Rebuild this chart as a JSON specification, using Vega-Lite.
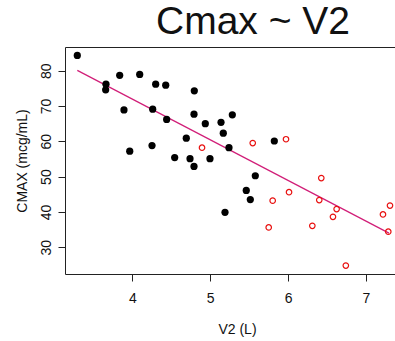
{
  "$schema": "https://vega.github.io/schema/vega-lite/v6.json",
  "autosize": "none",
  "width": 332,
  "height": 227,
  "padding": {"left": 65, "top": 47, "right": 0, "bottom": 67},
  "background": "white",
  "config": {
    "font": "Liberation Sans",
    "view": {"stroke": "#222", "strokeWidth": 1},
    "axis": {
      "grid": false,
      "domain": false,
      "tickColor": "#222",
      "tickSize": 7,
      "labelFont": "Liberation Sans",
      "labelFontSize": 14,
      "labelColor": "#111",
      "titleFont": "Liberation Sans",
      "titleFontSize": 14,
      "titleFontWeight": "normal",
      "titleColor": "#111"
    }
  },
  "title": {
    "text": "Cmax ~ V2",
    "font": "Liberation Sans",
    "fontSize": 39,
    "fontWeight": "normal",
    "color": "#111",
    "anchor": "middle",
    "frame": "group",
    "dx": 22,
    "dy": 36,
    "baseline": "bottom",
    "offset": 2
  },
  "datasets": {
    "pts": [
      {"v2": 3.294, "cmax": 84.35, "group": "A"},
      {"v2": 3.662, "cmax": 76.2, "group": "A"},
      {"v2": 3.658, "cmax": 74.6, "group": "A"},
      {"v2": 3.838, "cmax": 78.7, "group": "A"},
      {"v2": 4.095, "cmax": 78.95, "group": "A"},
      {"v2": 4.30, "cmax": 76.2, "group": "A"},
      {"v2": 4.429, "cmax": 75.9, "group": "A"},
      {"v2": 4.796, "cmax": 74.3, "group": "A"},
      {"v2": 3.893, "cmax": 68.9, "group": "A"},
      {"v2": 4.262, "cmax": 69.1, "group": "A"},
      {"v2": 4.441, "cmax": 66.2, "group": "A"},
      {"v2": 4.792, "cmax": 67.7, "group": "A"},
      {"v2": 4.937, "cmax": 65.0, "group": "A"},
      {"v2": 5.139, "cmax": 65.4, "group": "A"},
      {"v2": 5.168, "cmax": 62.3, "group": "A"},
      {"v2": 4.693, "cmax": 60.9, "group": "A"},
      {"v2": 3.967, "cmax": 57.2, "group": "A"},
      {"v2": 4.253, "cmax": 58.8, "group": "A"},
      {"v2": 4.544, "cmax": 55.4, "group": "A"},
      {"v2": 4.741, "cmax": 55.1, "group": "A"},
      {"v2": 4.792, "cmax": 52.9, "group": "A"},
      {"v2": 4.997, "cmax": 55.1, "group": "A"},
      {"v2": 5.241, "cmax": 58.2, "group": "A"},
      {"v2": 5.284, "cmax": 67.5, "group": "A"},
      {"v2": 5.823, "cmax": 60.1, "group": "A"},
      {"v2": 5.579, "cmax": 50.25, "group": "A"},
      {"v2": 5.463, "cmax": 46.1, "group": "A"},
      {"v2": 5.515, "cmax": 43.5, "group": "A"},
      {"v2": 5.19, "cmax": 39.9, "group": "A"},
      {"v2": 4.895, "cmax": 58.2, "group": "B"},
      {"v2": 5.546, "cmax": 59.5, "group": "B"},
      {"v2": 5.973, "cmax": 60.6, "group": "B"},
      {"v2": 6.426, "cmax": 49.6, "group": "B"},
      {"v2": 6.012, "cmax": 45.6, "group": "B"},
      {"v2": 5.802, "cmax": 43.2, "group": "B"},
      {"v2": 6.40, "cmax": 43.35, "group": "B"},
      {"v2": 6.623, "cmax": 40.8, "group": "B"},
      {"v2": 6.576, "cmax": 38.6, "group": "B"},
      {"v2": 5.751, "cmax": 35.6, "group": "B"},
      {"v2": 6.311, "cmax": 36.05, "group": "B"},
      {"v2": 6.741, "cmax": 24.8, "group": "B"},
      {"v2": 7.218, "cmax": 39.3, "group": "B"},
      {"v2": 7.308, "cmax": 41.8, "group": "B"},
      {"v2": 7.286, "cmax": 34.4, "group": "B"}
    ],
    "fit": [
      {"v2": 3.294, "cmax": 80.1},
      {"v2": 7.295, "cmax": 34.0}
    ]
  },
  "encoding": {
    "x": {
      "field": "v2", "type": "quantitative",
      "scale": {"domain": [3.136, 7.398], "nice": false, "zero": false},
      "axis": {"values": [4, 5, 6, 7], "title": "V2 (L)", "labelPadding": 10, "titlePadding": 17, "titleX": 172}
    },
    "y": {
      "field": "cmax", "type": "quantitative",
      "scale": {"domain": [22.41, 86.73], "nice": false, "zero": false},
      "axis": {"values": [30, 40, 50, 60, 70, 80], "title": "CMAX (mcg/mL)", "labelAngle": -90, "labelAlign": "center", "labelBaseline": "bottom", "labelPadding": 5, "titlePadding": 10}
    }
  },
  "layer": [
    {
      "data": {"name": "fit"},
      "mark": {"type": "line", "color": "#d11e78", "strokeWidth": 1.2}
    },
    {
      "data": {"name": "pts"},
      "transform": [{"filter": "datum.group === 'A'"}],
      "mark": {"type": "circle", "color": "black", "size": 52, "opacity": 1}
    },
    {
      "data": {"name": "pts"},
      "transform": [{"filter": "datum.group === 'B'"}],
      "mark": {"type": "point", "shape": "circle", "filled": false, "stroke": "#e8100f", "strokeWidth": 1.2, "size": 30, "opacity": 1}
    }
  ]
}
